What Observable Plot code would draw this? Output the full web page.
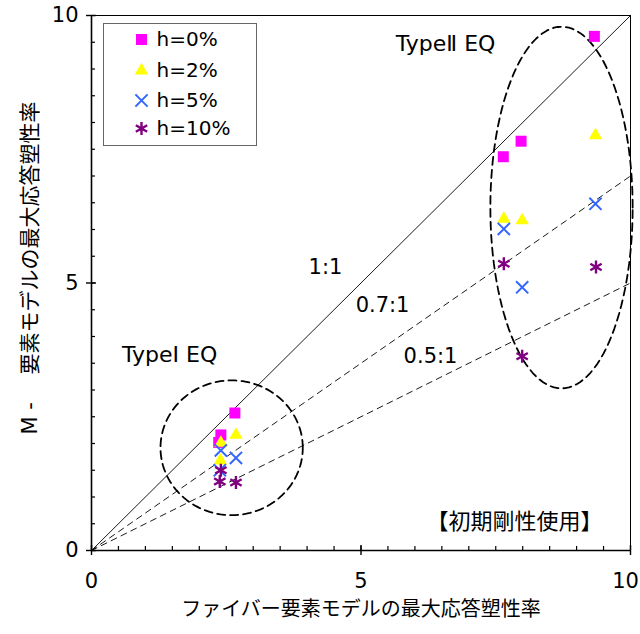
<!DOCTYPE html>
<html><head><meta charset="utf-8">
<script src="https://cdn.jsdelivr.net/npm/d3@7"></script>
<script src="https://cdn.jsdelivr.net/npm/@observablehq/plot@0.6"></script>
<style>html,body{margin:0;padding:0;background:#fff;}</style>
</head><body><div id="chart"></div>
<script>
// ---- data ----
const seriesNames = ["h=0%", "h=2%", "h=5%", "h=10%"];
const h0X  = [2.36, 2.40, 2.66, 7.64, 7.97, 9.33];
const h0Y  = [2.02, 2.16, 2.57, 7.36, 7.65, 9.61];
const h2X  = [2.39, 2.40, 2.68, 7.65, 7.99, 9.35];
const h2Y  = [1.68, 2.01, 2.16, 6.20, 6.17, 7.76];
const h5X  = [2.38, 2.40, 2.68, 7.65, 7.99, 9.35];
const h5Y  = [1.50, 1.87, 1.73, 6.01, 4.92, 6.48];
const h10X = [2.40, 2.38, 2.68, 7.65, 7.99, 9.36];
const h10Y = [1.50, 1.29, 1.27, 5.36, 3.63, 5.30];
const ratios = [1, 0.7, 0.5];
const ratioLabels = ["1:1", "0.7:1", "0.5:1"];
const majorTicks = [0, 5, 10];
const minorTicks = [0, 0.5, 1, 1.5, 2, 2.5, 3, 3.5, 4, 4.5, 5, 5.5, 6, 6.5, 7, 7.5, 8, 8.5, 9, 9.5, 10];
const xLabel = "ファイバー要素モデルの最大応答塑性率";
const yLabel = "M -　 要素モデルの最大応答塑性率";
const groupLabels = ["TypeⅠ EQ", "TypeⅡ EQ"];
const noteLabel = "【初期剛性使用】";
// group ellipses: center x, center y, radius x, radius y (data units)
const ellipseCX = [2.60, 8.72];
const ellipseCY = [1.92, 6.41];
const ellipseRX = [1.32, 1.32];
const ellipseRY = [1.26, 3.38];

// ---- styles ----
const seriesStyle = [
  {symbol: "square",   color: "#ff00ff", r: 6.2, filled: true},
  {symbol: "triangle", color: "#ffff00", r: 5.0, filled: true},
  {symbol: "times",    color: "#3366ff", r: 5.6, filled: false, sw: 2},
  {symbol: "asterisk", color: "#800080", r: 6.2, filled: false, sw: 2.4}
];
const seriesXY = [[h0X, h0Y], [h2X, h2Y], [h5X, h5Y], [h10X, h10Y]];

const W = 640, H = 634, mL = 91, mR = 10, mT = 15, mB = 84;
const plotW = W - mL - mR, plotH = H - mT - mB;
const FONT = "DejaVu Sans, 'Noto Sans CJK JP', sans-serif";

const ratioLines = ratios.map(r => [{x: 0, y: 0}, {x: 10, y: 10 * r}]);
function ellipse(i) {
  const pts = [];
  for (let k = 0; k <= 120; k++) {
    const t = (k / 120) * 2 * Math.PI;
    pts.push({x: ellipseCX[i] + ellipseRX[i] * Math.cos(t), y: ellipseCY[i] + ellipseRY[i] * Math.sin(t)});
  }
  return pts;
}

const marks = [
  Plot.frame({stroke: "#000", strokeWidth: 1}),
  // ratio lines
  Plot.line(ratioLines[0], {x: "x", y: "y", stroke: "#000", strokeWidth: 0.9}),
  Plot.line(ratioLines[1], {x: "x", y: "y", stroke: "#000", strokeWidth: 0.9, strokeDasharray: "6,5"}),
  Plot.line(ratioLines[2], {x: "x", y: "y", stroke: "#000", strokeWidth: 0.9, strokeDasharray: "6,5"}),
  // group ellipses
  Plot.line(ellipse(0), {x: "x", y: "y", stroke: "#000", strokeWidth: 1.8, strokeDasharray: "8,5"}),
  Plot.line(ellipse(1), {x: "x", y: "y", stroke: "#000", strokeWidth: 1.8, strokeDasharray: "8,5"}),
  // axes lines
  Plot.ruleX([0], {stroke: "#000", strokeWidth: 1.6}),
  Plot.ruleY([0], {stroke: "#000", strokeWidth: 1.6}),
  // ticks
  Plot.tickX(minorTicks, {x: d => d, insetTop: plotH - 4, stroke: "#000", strokeWidth: 1.2}),
  Plot.tickX(majorTicks, {x: d => d, insetTop: plotH - 5, insetBottom: -5, stroke: "#000", strokeWidth: 1.4}),
  Plot.tickY(minorTicks, {y: d => d, insetRight: plotW - 4, stroke: "#000", strokeWidth: 1.2}),
  Plot.tickY(majorTicks, {y: d => d, insetRight: plotW - 5, insetLeft: -5, stroke: "#000", strokeWidth: 1.4}),
  Plot.axisX(majorTicks.slice(0, 2), {tickSize: 0, tickPadding: 23, fontSize: 21, label: null, tickFormat: d => String(d)}),
  Plot.axisX(majorTicks.slice(2), {tickSize: 0, tickPadding: 23, fontSize: 21, label: null, dx: -5, tickFormat: d => String(d)}),
  Plot.axisY({ticks: majorTicks, tickSize: 0, tickPadding: 13, fontSize: 21, label: null, tickFormat: d => String(d)}),
  // axis titles
  Plot.text([xLabel], {frameAnchor: "bottom", dy: 65, fontSize: 20, fill: "#000"}),
  Plot.text([yLabel], {frameAnchor: "left", textAnchor: "middle", lineAnchor: "middle", dx: -61, dy: -15, rotate: -90, fontSize: 21, fill: "#000"}),
  // annotations
  Plot.text([ratioLabels[0]], {x: 4.34, y: 5.29, fontSize: 21, fill: "#000"}),
  Plot.text([ratioLabels[1]], {x: 5.40, y: 4.58, fontSize: 21, fill: "#000"}),
  Plot.text([ratioLabels[2]], {x: 6.29, y: 3.63, fontSize: 21, fill: "#000"}),
  Plot.text([groupLabels[0]], {x: 1.45, y: 3.66, fontSize: 22, fill: "#000"}),
  Plot.text([groupLabels[1]], {x: 6.57, y: 9.46, fontSize: 22, fill: "#000"}),
  Plot.text([noteLabel], {x: 7.85, y: 0.54, fontSize: 22, fill: "#000"}),
  // legend box
  Plot.frame({insetLeft: 12, insetTop: 8, insetRight: plotW - 165, insetBottom: plotH - 130, stroke: "#666", strokeWidth: 1, fill: "#fff"})
];

const legendDy = [24, 55, 85, 113];
seriesNames.forEach((name, i) => {
  const st = seriesStyle[i];
  const [xs, ys] = seriesXY[i];
  const pts = xs.map((x, j) => ({x, y: ys[j]}));
  const style = st.filled
    ? {fill: st.color, stroke: "none"}
    : {fill: "none", stroke: st.color, strokeWidth: st.sw};
  marks.push(Plot.dot(pts, {x: "x", y: "y", symbol: st.symbol, r: st.r, ...style}));
  marks.push(Plot.dot([name], {frameAnchor: "top-left", dx: 50, dy: legendDy[i], symbol: st.symbol, r: st.r, ...style}));
  marks.push(Plot.text([name], {frameAnchor: "top-left", dx: 65, dy: legendDy[i], textAnchor: "start", lineAnchor: "middle", fontSize: 20, fill: "#000"}));
});

const chart = Plot.plot({
  width: W, height: H,
  marginLeft: mL, marginRight: mR, marginTop: mT, marginBottom: mB,
  x: {domain: [0, 10]},
  y: {domain: [0, 10]},
  style: {fontFamily: FONT, fontSize: "18px", color: "#000", background: "#fff"},
  marks
});
document.getElementById("chart").append(chart);
</script>
</body></html>
